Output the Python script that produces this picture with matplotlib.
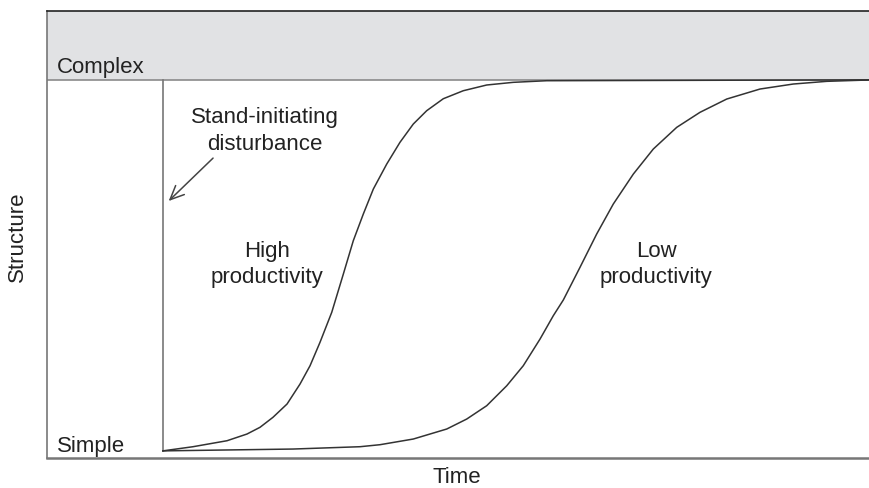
import matplotlib
matplotlib.use('Agg')
import matplotlib.pyplot as plt

# points (time 0-100, structure 0-100)
high_time = [14.1, 17.76, 21.90, 24.33, 25.91, 27.49, 29.20, 30.78, 32.00, 33.21,
             34.64, 36.05, 37.26, 38.48, 39.70, 41.33, 42.94, 44.56, 46.19, 48.21,
             50.64, 53.49, 56.73, 60.79, 100.0]
high_struct = [1.6, 2.53, 3.87, 5.37, 6.87, 9.11, 12.08, 16.55, 20.65, 25.88,
               32.60, 41.16, 48.61, 54.59, 60.18, 65.77, 70.63, 74.72, 77.70, 80.38,
               82.17, 83.45, 84.05, 84.41, 84.6]

low_time = [14.1, 29.93, 38.08, 40.51, 44.56, 48.63, 51.06, 53.49, 55.93, 57.94,
            59.98, 61.59, 62.81, 64.84, 66.87, 68.89, 71.33, 73.76, 76.61, 79.44,
            82.69, 86.74, 90.79, 94.85, 99.72, 100.0]
low_struct = [1.6, 2.01, 2.53, 2.98, 4.25, 6.49, 8.72, 11.70, 16.17, 20.65,
              26.62, 31.83, 35.35, 42.66, 50.11, 56.82, 63.53, 69.13, 73.98, 77.34,
              80.31, 82.55, 83.67, 84.27, 84.56, 84.6]

disturbance_time = 14.1
simple_level = 1.6
complex_level = 84.6

plt.rcParams['font.family'] = ['Liberation Sans', 'DejaVu Sans']
txt = '#222222'

fig = plt.figure(figsize=(8.69, 4.89), dpi=100)
ax = fig.add_axes([0.0541, 0.0613, 0.9459, 0.9141])
ax.set_xlim(0, 100)
ax.set_ylim(0, 100)

ax.axhspan(complex_level, 100, color='#e1e2e4', lw=0)
ax.axhline(complex_level, color='#8a8a8a', lw=1.2)
ax.plot([disturbance_time, disturbance_time], [simple_level, complex_level], color='#777777', lw=1.2)

ax.plot(high_time, high_struct, color='#333333', lw=1.1, solid_joinstyle='round')
ax.plot(low_time, low_struct, color='#333333', lw=1.1, solid_joinstyle='round')

ax.text(1.2, 86.4, 'Complex', fontsize=16, color=txt, va='baseline')
ax.text(1.2, 1.6, 'Simple', fontsize=16, color=txt, va='baseline')
ax.text(26.5, 75.2, 'Stand-initiating', fontsize=16, color=txt, ha='center', va='baseline')
ax.text(26.5, 69.1, 'disturbance', fontsize=16, color=txt, ha='center', va='baseline')
ax.text(26.8, 45.2, 'High', fontsize=16, color=txt, ha='center', va='baseline')
ax.text(26.8, 39.4, 'productivity', fontsize=16, color=txt, ha='center', va='baseline')
ax.text(74.1, 45.2, 'Low', fontsize=16, color=txt, ha='center', va='baseline')
ax.text(74.1, 39.4, 'productivity', fontsize=16, color=txt, ha='center', va='baseline')

ax.annotate('', xy=(14.8, 57.5), xytext=(20.2, 67.1),
            arrowprops=dict(arrowstyle='->,head_length=1.0,head_width=0.45',
                            color='#444444', lw=1.1, shrinkA=0, shrinkB=0))

fig.text(0.0196, 0.515, 'Structure', fontsize=16, color=txt, rotation=90, ha='center', va='center')
fig.text(0.526, 0.012, 'Time', fontsize=16, color=txt, ha='center', va='baseline')

ax.set_xticks([])
ax.set_yticks([])
ax.spines['right'].set_visible(False)
ax.spines['top'].set_color('#222222')
ax.spines['top'].set_linewidth(1.2)
ax.spines['left'].set_color('#777777')
ax.spines['left'].set_linewidth(1.2)
ax.spines['bottom'].set_color('#777777')
ax.spines['bottom'].set_linewidth(1.8)

fig.savefig('out.png', dpi=100)
